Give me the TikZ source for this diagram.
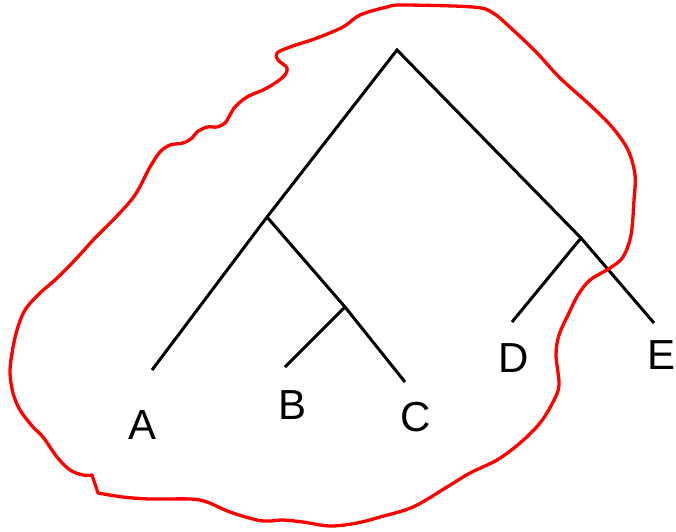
\documentclass[tikz,border=0pt]{standalone}
\usepackage{fontspec}
\setmainfont{Liberation Sans}
\begin{document}
\begin{tikzpicture}[x=1pt,y=-1pt,
  branch/.style={line width=3pt,black},
  hull/.style={line width=3.3pt,red,line join=round},
  leaflabel/.style={font=\fontsize{42}{42}\selectfont,inner sep=0pt}]
\useasboundingbox (0,0) rectangle (676,531);
% tree points
\coordinate (root) at (397,50);
\coordinate (lj) at (267,217);
\coordinate (rj) at (581,238);
\coordinate (bcj) at (345,307);
\coordinate (ea) at (152,370);
\coordinate (eb) at (285,367);
\coordinate (ec) at (405,382);
\coordinate (ed) at (512,322);
\coordinate (ee) at (654,323);
\draw[branch] (ea) -- (lj) -- (root) -- (rj) -- (ee);
\draw[branch] (lj) -- (bcj) -- (ec);
\draw[branch] (bcj) -- (eb);
\draw[branch] (rj) -- (ed);
% labels
\node[leaflabel] (A) at (143,425) {A};
\node[leaflabel] (B) at (293,405) {B};
\node[leaflabel] (C) at (416,417) {C};
\node[leaflabel] (D) at (514,358) {D};
\node[leaflabel] (E) at (661,355) {E};
% red hull
\draw[hull] plot[smooth,tension=0.55] coordinates {
(92,475) (83,475) (70,470) (57,457) (43,437) (33,427) (20,410) (13,393) (10,373) (12,353) (17,330) (25,310) (40,293) (55,280) (75,260) (95,238) (115,218) (135,195) (150,167) (160,152) (170,145) (183,143) (192,138) (197,132) (207,127) (217,127) (225,123) (230,115) (235,107) (247,97) (267,88) (283,77) (287,68) (278,60) (277,53) (290,47) (317,38) (343,27) (360,15)
(387,7) (403,5) (473,7) (493,13) (513,30) (537,53) (560,78) (590,105) (612,127) (628,150) (635,175) (634,200) (631,235) (623,257) (610,268) (590,280) (578,295) (568,315) (559,335) (556,355) (559,385) (553,402) (540,423) (520,443) (497,460) (470,473) (447,487) (413,507) (380,517) (357,523) (330,526) (303,522) (283,520) (270,521) (257,520) (230,512) (207,502) (190,499) (150,499) (123,497) (98,493)} -- cycle;
\end{tikzpicture}
\end{document}
